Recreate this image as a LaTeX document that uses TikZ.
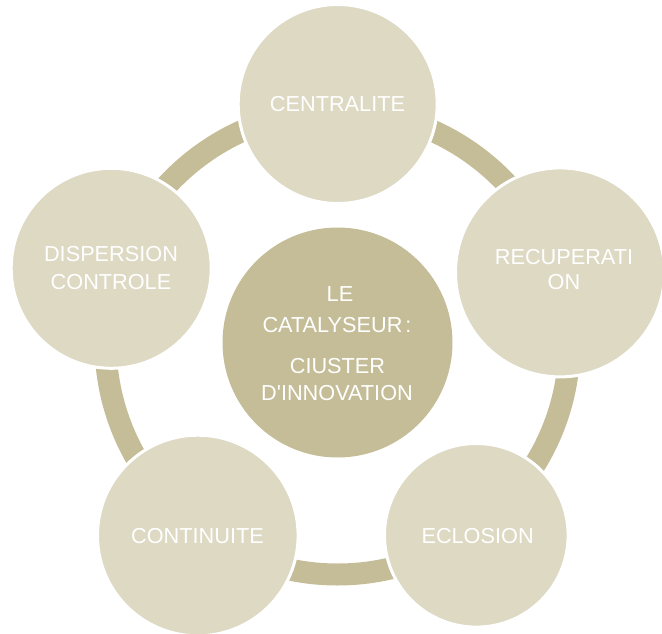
\documentclass[tikz,border=0pt]{standalone}
\usepackage{fontspec}
\newfontfamily\lblfont{Liberation Sans}
\definecolor{petalfill}{HTML}{DDD9C3}
\definecolor{darktan}{HTML}{C4BD97}
\begin{document}
\begin{tikzpicture}[x=1pt,y=-1pt,
  petal/.style={circle, fill=petalfill, draw=white, line width=3pt, inner sep=0pt},
  hubstyle/.style={circle, fill=darktan, inner sep=0pt, minimum size=230pt},
  ringstyle/.style={draw=darktan, line width=22pt},
  lbl/.style={anchor=base, text=white, font=\lblfont\fontsize{21.7}{25}\selectfont, inner sep=0pt}]
\useasboundingbox (0,0) rectangle (662,634);
\node[hubstyle] (hub) at (337.5,342.5) {};
\draw[ringstyle] (hub.center) circle (232pt);
\node[petal, minimum size=199pt] (top) at (337.7,104) {};
\node[petal, minimum size=209pt] (right) at (560,272.4) {};
\node[petal, minimum size=200pt] (left) at (111.2,268.3) {};
\node[petal, minimum size=200.6pt] (botleft) at (197.8,535.5) {};
\node[petal, minimum size=183.6pt] (botright) at (476.3,535.3) {};
\node[lbl] (t1) at (337.5,112) {CENTRALITE};
\node[lbl] (t2a) at (564,264) {RECUPERATI};
\node[lbl] (t2b) at (564,289) {ON};
\node[lbl] (t3a) at (111,261.7) {DISPERSION};
\node[lbl] (t3b) at (111,289) {CONTROLE};
\node[lbl] (t4) at (197.5,543.3) {CONTINUITE};
\node[lbl] (t5) at (477.6,543) {ECLOSION};
\node[lbl] (h1) at (340,301) {LE};
\node[lbl] (h2) at (337,332.7) {CATALYSEUR\kern3pt:};
\node[lbl] (h3) at (337.5,373.3) {CIUSTER};
\node[lbl] (h4) at (337,400) {D\textquotesingle INNOVATION};
\end{tikzpicture}
\end{document}
